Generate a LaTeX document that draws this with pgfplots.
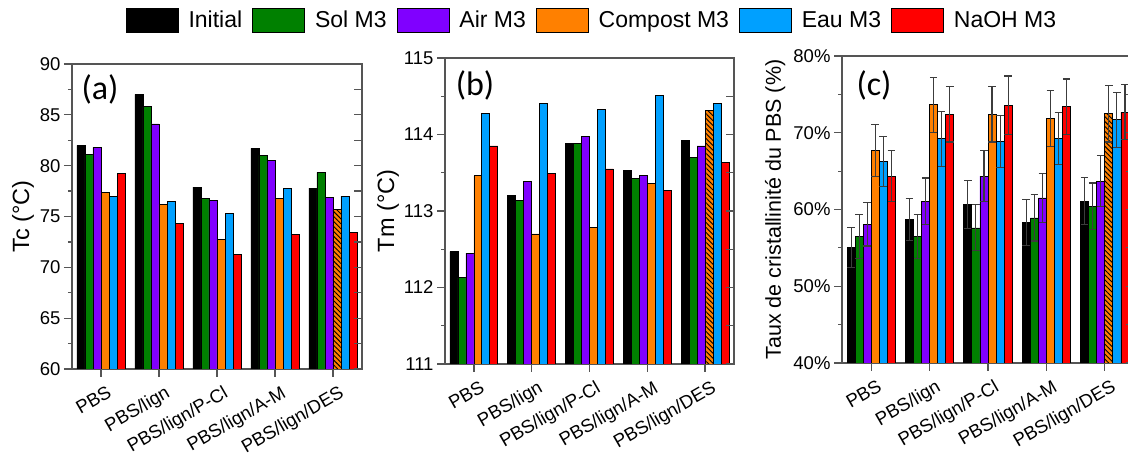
\documentclass[border=0pt]{standalone}
\usepackage{pgfplots}
\usepackage{pgfplotstable}
\pgfplotsset{compat=1.18}
\usepackage{fontspec}
\setmainfont{Liberation Sans}
\newfontfamily\carlito{Carlito}
\usetikzlibrary{patterns.meta}

\definecolor{cBlack}{RGB}{0,0,0}
\definecolor{cGreen}{RGB}{0,128,0}
\definecolor{cPurple}{RGB}{128,0,255}
\definecolor{cOrange}{RGB}{255,128,0}
\definecolor{cBlue}{RGB}{0,160,255}
\definecolor{cRed}{RGB}{255,0,0}
\definecolor{axgray}{RGB}{85,85,85}
\definecolor{errgray}{RGB}{60,60,60}

\pgfplotstableread{
x Ini Sol Air Com ComH Eau NaOH
0 82.0 81.1 81.8 77.35 nan 77.0 79.2
1 87.0 85.8 84.1 76.2 nan 76.5 74.3
2 77.9 76.75 76.6 72.7 nan 75.3 71.3
3 81.7 81.0 80.5 76.75 nan 77.8 73.2
4 77.8 79.35 76.9 nan 75.7 77.0 73.4
}\tcdata

\pgfplotstableread{
x Ini Sol Air Com ComH Eau NaOH
0 112.47 112.13 112.45 113.46 nan 114.27 113.85
1 113.20 113.14 113.39 112.70 nan 114.40 113.49
2 113.88 113.88 113.97 112.78 nan 114.33 113.55
3 113.53 113.43 113.47 113.36 nan 114.51 113.27
4 113.92 113.70 113.85 nan 114.32 114.40 113.63
}\tmdata

\pgfplotstableread{
x Ini eIni Sol eSol Air eAir Com eCom ComH eComH Eau eEau NaOH eNaOH
0 55.1 2.6 56.5 2.9 58.1 2.85 67.7 3.4 nan nan 66.25 3.3 64.35 3.3
1 58.7 2.7 56.5 2.9 61.1 3.0 73.65 3.6 nan nan 69.2 3.6 72.4 3.6
2 60.65 3.1 57.6 3.0 64.35 3.3 72.4 3.6 nan nan 68.9 3.4 73.6 3.8
3 58.3 3.0 58.9 3.0 61.5 3.2 71.85 3.6 nan nan 69.25 3.4 73.4 3.6
4 61.1 3.1 60.45 3.0 63.7 3.3 nan nan 72.5 3.7 71.7 3.6 72.7 3.6
}\xcdata

\newcommand{\tickfont}{\fontsize{18.5}{20}\selectfont}
\newcommand{\lblfont}{\fontsize{23.5}{26}\selectfont}

\pgfplotsset{
  barsty/.style={ybar, bar width=0.138, bar shift=0pt, draw=black, line width=0.8pt,
    legend image code/.code={\draw[##1, draw=black, line width=0.8pt] (0pt,-12pt) rectangle (52pt,12pt); \path (60pt,0pt);}},
  hatch/.style={postaction={pattern={Lines[angle=-45,distance=3.5pt,line width=0.9pt]}, pattern color=black}},
  panel/.style={
    scale only axis, anchor=south west,
    xmin=-0.5, xmax=4.5,
    xtick={0,1,2,3,4},
    xticklabels={PBS,PBS/lign,PBS/lign/P-Cl,PBS/lign/A-M,PBS/lign/DES},
    xtick pos=left, ytick pos=left, tick align=outside,
    minor y tick num=1,
    major tick length=8pt, minor tick length=4pt,
    axis line style={axgray, line width=1.2pt},
    tick style={axgray, line width=1.2pt},
    xticklabel style={xshift=6pt, yshift=-5pt, rotate=30, anchor=north east, font=\tickfont, inner sep=2pt},
    yticklabel style={font=\tickfont},
    ylabel style={anchor=center, font=\lblfont},
    /pgf/number format/assume math mode=true,
    error bars/error bar style={errgray, line width=1.1pt},
    error bars/error mark options={errgray, line width=1.1pt, mark size=3.8pt, rotate=90},
  },
  rtick/.style={
    scale only axis, anchor=south west,
    xmin=0, xmax=1, axis x line=none, axis y line*=right,
    tick align=inside, minor y tick num=1,
    major tick length=8pt, minor tick length=8pt,
    yticklabels={}, axis line style={axgray, line width=1.2pt},
    tick style={axgray, line width=1.2pt},
  },
}

\begin{document}
\begin{tikzpicture}
\useasboundingbox (0,0) rectangle (1128pt,457pt);
\clip (0,0) rectangle (1128pt,457pt);

% ---------- (a) ----------
\begin{axis}[panel, at={(72pt,88pt)}, width=290pt, height=305pt,
  ymin=60, ymax=90, ytick={60,65,...,90},
  ylabel={Tc (°C)}, ylabel style={at={(axis description cs:-0.169,0.5)}},
  legend columns=6,
  legend style={at={(1.793,1.144)}, anchor=center, draw=none, fill=none,
    font=\fontsize{23}{25}\selectfont,
    /tikz/every even column/.append style={column sep=8pt}}]
\addplot[barsty, fill=cBlack] table[x expr=\thisrow{x}-0.345, y=Ini]{\tcdata};
\addplot[barsty, fill=cGreen] table[x expr=\thisrow{x}-0.207, y=Sol]{\tcdata};
\addplot[barsty, fill=cPurple] table[x expr=\thisrow{x}-0.069, y=Air]{\tcdata};
\addplot[barsty, fill=cOrange] table[x expr=\thisrow{x}+0.069, y=Com]{\tcdata};
\addplot[barsty, fill=cBlue] table[x expr=\thisrow{x}+0.207, y=Eau]{\tcdata};
\addplot[barsty, fill=cRed] table[x expr=\thisrow{x}+0.345, y=NaOH]{\tcdata};
\addplot[barsty, fill=cOrange, hatch, forget plot] table[x expr=\thisrow{x}+0.069, y=ComH]{\tcdata};
\legend{Initial,Sol M3,Air M3,Compost M3,Eau M3,NaOH M3}
\end{axis}
\begin{axis}[rtick, at={(72pt,88pt)}, width=290pt, height=305pt,
  ymin=60, ymax=90, ytick={60,65,...,90}]
\end{axis}

% ---------- (b) ----------
\begin{axis}[panel, at={(445pt,93pt)}, width=289pt, height=306pt,
  ymin=111, ymax=115, ytick={111,112,113,114,115},
  ylabel={Tm (°C)}, ylabel style={at={(axis description cs:-0.197,0.5)}}]
\addplot[barsty, fill=cBlack] table[x expr=\thisrow{x}-0.345, y=Ini]{\tmdata};
\addplot[barsty, fill=cGreen] table[x expr=\thisrow{x}-0.207, y=Sol]{\tmdata};
\addplot[barsty, fill=cPurple] table[x expr=\thisrow{x}-0.069, y=Air]{\tmdata};
\addplot[barsty, fill=cOrange] table[x expr=\thisrow{x}+0.069, y=Com]{\tmdata};
\addplot[barsty, fill=cBlue] table[x expr=\thisrow{x}+0.207, y=Eau]{\tmdata};
\addplot[barsty, fill=cRed] table[x expr=\thisrow{x}+0.345, y=NaOH]{\tmdata};
\addplot[barsty, fill=cOrange, hatch, forget plot] table[x expr=\thisrow{x}+0.069, y=ComH]{\tmdata};
\end{axis}
\begin{axis}[rtick, at={(445pt,93pt)}, width=289pt, height=306pt,
  ymin=111, ymax=115, ytick={111,112,113,114,115}]
\end{axis}

% ---------- (c) ----------
\begin{axis}[panel, at={(842pt,94pt)}, width=292pt, height=307pt,
  ymin=40, ymax=80, ytick={40,50,60,70,80},
  yticklabels={40\%,50\%,60\%,70\%,80\%},
  ylabel={Taux de cristallinité du PBS (\%)}, ylabel style={at={(axis description cs:-0.229,0.5)}, font=\fontsize{21.5}{24}\selectfont}]
\addplot[barsty, fill=cBlack, error bars/.cd, y dir=both, y explicit] table[x expr=\thisrow{x}-0.345, y=Ini, y error=eIni]{\xcdata};
\addplot[barsty, fill=cGreen, error bars/.cd, y dir=both, y explicit] table[x expr=\thisrow{x}-0.207, y=Sol, y error=eSol]{\xcdata};
\addplot[barsty, fill=cPurple, error bars/.cd, y dir=both, y explicit] table[x expr=\thisrow{x}-0.069, y=Air, y error=eAir]{\xcdata};
\addplot[barsty, fill=cOrange, error bars/.cd, y dir=both, y explicit] table[x expr=\thisrow{x}+0.069, y=Com, y error=eCom]{\xcdata};
\addplot[barsty, fill=cOrange, hatch, forget plot, error bars/.cd, y dir=both, y explicit] table[x expr=\thisrow{x}+0.069, y=ComH, y error=eComH]{\xcdata};
\addplot[barsty, fill=cBlue, error bars/.cd, y dir=both, y explicit] table[x expr=\thisrow{x}+0.207, y=Eau, y error=eEau]{\xcdata};
\addplot[barsty, fill=cRed, error bars/.cd, y dir=both, y explicit] table[x expr=\thisrow{x}+0.345, y=NaOH, y error=eNaOH]{\xcdata};
\end{axis}
\begin{axis}[rtick, at={(842pt,94pt)}, width=292pt, height=307pt,
  ymin=40, ymax=80, ytick={40,50,60,70,80}]
\end{axis}

\node[font=\carlito\fontsize{34}{36}\selectfont] at (100pt,368pt) {(a)};
\node[font=\carlito\fontsize{34}{36}\selectfont] at (475pt,372pt) {(b)};
\node[font=\carlito\fontsize{34}{36}\selectfont] at (874pt,372pt) {(c)};
\end{tikzpicture}
\end{document}
